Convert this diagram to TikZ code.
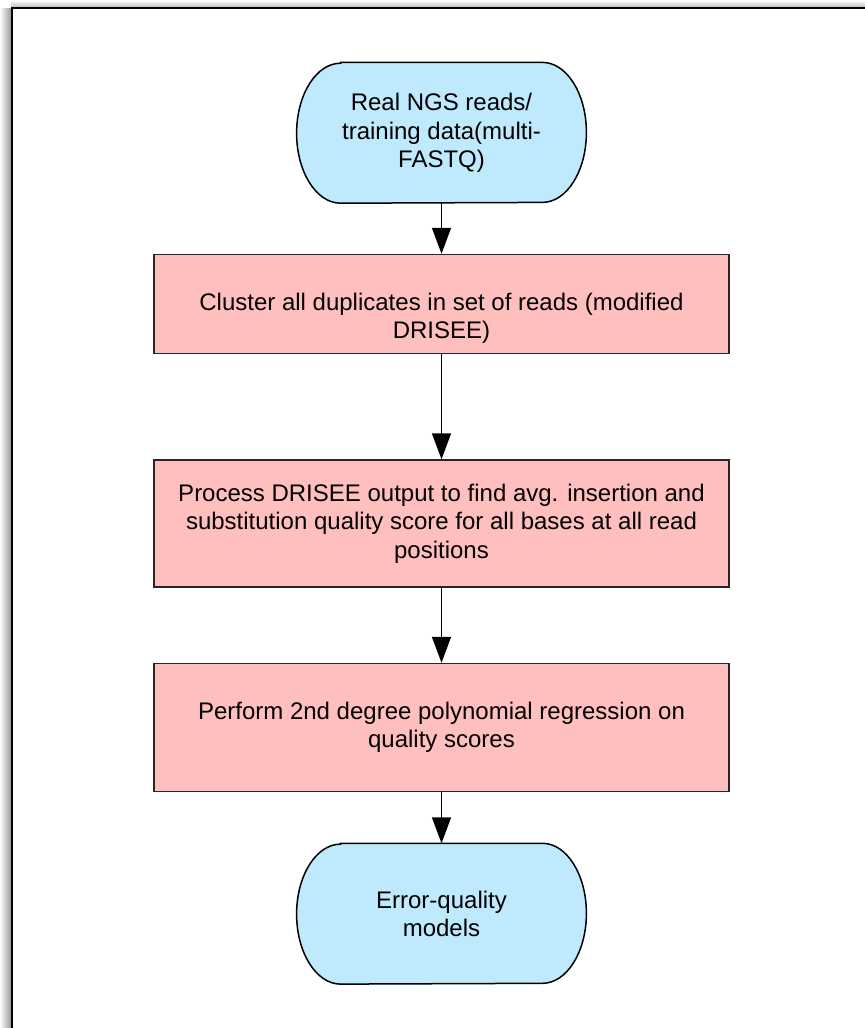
\documentclass[tikz,border=0pt]{standalone}
\usepackage{fontspec}
\setmainfont{Liberation Sans}
\usetikzlibrary{arrows.meta,shapes,backgrounds}

\definecolor{termblue}{RGB}{191,233,252}
\definecolor{steppink}{RGB}{255,191,191}

\tikzset{
  term/.style={minimum width=144.5pt,minimum height=70pt},
  termline/.style={draw=black,line width=0.75pt,fill=termblue},
  procbox/.style={draw=black!85,line width=0.75pt,fill=steppink,minimum width=287.5pt},
  flow/.style={line width=0.8pt,-{Triangle[length=13pt,width=9.5pt]}}
}

\begin{document}
\begin{tikzpicture}[x=0.5pt,y=-0.5pt,font=\fontsize{12}{14.2}\selectfont]
\useasboundingbox (0,0) rectangle (865,1028);
% page frame with its shadow
\shade[left color=white,right color=black!40] (0,8) rectangle (11,1028);
\shade[top color=white,bottom color=black!25] (11,0) rectangle (865,7);
\draw[line width=0.85pt] (11.8,1028) -- (11.8,8.2) -- (865,8.2);

\node [matrix,anchor=north,inner sep=0pt,nodes={inner sep=0pt,align=center}] at (441.5,62)
%,nodes={draw}]
    {
        \node [term] (reads) {Real NGS reads/\\training data(multi-\\FASTQ)}; \\[25.5pt]
        \node [procbox,minimum height=49.5pt] (cluster) {\raisebox{-7.5pt}[\height][\depth]{\begin{tabular}{@{}c@{}}Cluster all duplicates in set of reads (modified\\DRISEE)\end{tabular}}}; \\[52.5pt]
        \node [procbox,minimum height=63.5pt] (process) {Process DRISEE output to find avg. insertion and\\substitution quality score for all bases at all read\\positions}; \\[37.5pt]
        \node [procbox,minimum height=64pt] (regress) {Perform 2nd degree polynomial regression on\\quality scores}; \\[25.5pt]
        \node [term] (models) {Error-quality\\models}; \\
    };

\begin{pgfonlayer}{background}
\foreach \t in {reads,models}
  \filldraw[termline] ([xshift=22pt]\t.north west) -- ([xshift=-22pt]\t.north east)
    arc[start angle=90,end angle=-90,x radius=22pt,y radius=35pt]
    -- ([xshift=22pt]\t.south west)
    arc[start angle=270,end angle=90,x radius=22pt,y radius=35pt] -- cycle;
\end{pgfonlayer}

\draw[flow] (reads) -- (cluster);
\draw[flow] (cluster) -- (process);
\draw[flow] (process) -- (regress);
\draw[flow] (regress) -- (models);
\end{tikzpicture}
\end{document}
